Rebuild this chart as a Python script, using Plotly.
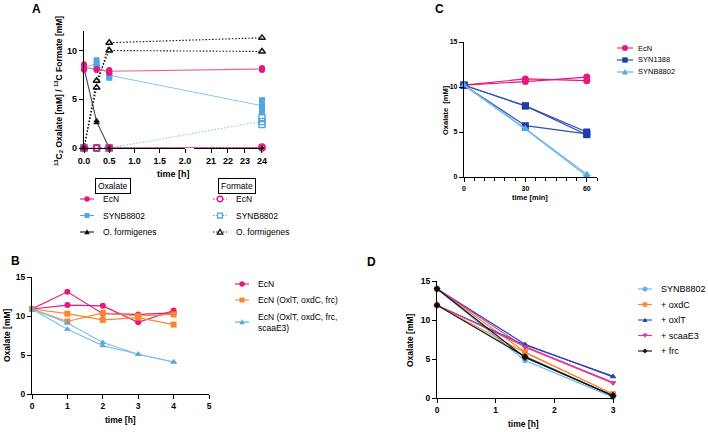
import numpy as np
import plotly.graph_objects as go

W, H = 708, 432
FONT = "Liberation Sans"
DOT = "1.5px,1.8px"

PINK = "#E5197B"
LBLUE = "#55A8E2"
DBLUE = "#1C3DA8"
ORANGE = "#F7872F"
BLACK = "#111111"

# ---------------- panel A ----------------
t_a = [0, 0.25, 0.5, 24]
ecn_ox = [[8.6, 8.0, 8.0, 8.0], [8.2, 8.1, 7.9, 8.1], [8.0, 8.0, 7.7, 8.2]]
synb_ox = [[8.3, 9.0, 7.7, 4.9], [8.3, 8.6, 7.5, 4.3], [8.2, 8.3, 7.2, 3.8]]
oform_ox = [[8.2, 2.8, 0.0, 0.0], [8.2, 2.6, 0.0, 0.0]]
ecn_fo = [[0.0, 0.0, 0.0, 0.1], [0.0, 0.0, 0.0, 0.0]]
synb_fo = [[0.0, 0.0, 0.0, 3.1], [0.0, 0.0, 0.0, 2.7], [0.0, 0.0, 0.0, 2.4]]
oform_fo = [[0.0, 6.2, 10.8, 11.3], [0.0, 6.9, 10.0, 9.9]]

# ---------------- panel B ----------------
t_b = [0, 1, 2, 3, 4]
b_ecn = [[10.9, 13.1, 10.3, 10.2, 10.4], [10.9, 11.4, 11.3, 9.2, 10.7]]
b_oxl = [[10.9, 10.3, 9.5, 9.8, 8.9], [10.9, 9.3, 10.4, 10.0, 10.2]]
b_scaa = [[10.9, 9.1, 6.6, 5.1, 4.1], [10.9, 8.3, 6.2, 5.1, 4.1]]

# ---------------- panel C ----------------
t_c = [0, 30, 60]
c_ecn = [[10.2, 10.9, 10.7], [10.2, 10.6, 11.1]]
c_syn1388 = [[10.2, 7.9, 5.0], [10.2, 7.9, 4.7], [10.2, 5.7, 4.8]]
c_synb = [[10.2, 5.4, 0.3], [10.2, 5.3, 0.1]]

# ---------------- panel D ----------------
t_d = [0, 1.5, 3]
d_synb = [[14.0, 4.8, 0.1], [11.9, 5.4, 0.2]]
d_oxdc = [[14.0, 5.9, 0.5], [11.9, 5.8, 0.5]]
d_oxlt = [[14.0, 6.9, 2.7], [11.9, 6.8, 2.8]]
d_scaa = [[14.0, 6.5, 1.9], [11.9, 6.6, 2.0]]
d_frc = [[14.0, 5.2, 0.3], [11.9, 5.3, 0.3]]


def px(x):
    return x / W


def py(y):
    return 1 - y / H


# broken time axis of panel A: left part 0-2 h, right part 20-24 h
A_L0, A_L1, A_R0, A_R1 = 84, 185, 194, 263
A_RMAX = 24.06
SC_L = (A_L1 - A_L0) / 2.0
SC_R = (A_R1 - A_R0) / (A_RMAX - 20)


def t_break(t):
    t = np.asarray(t, dtype=float)
    return np.where(t <= 2, t, 2 + (A_R0 - A_L1) / SC_L + (t - 20) * SC_R / SC_L)


fig = go.Figure()


def add_reps(reps, t, color, symbol, size, xa, ya, dash="solid", lw=1.2,
             open_=False, lcolor=None):
    for r in reps:
        fig.add_trace(go.Scatter(
            x=t, y=r, mode="lines+markers", xaxis=xa, yaxis=ya,
            line=dict(color=lcolor or color, width=lw, dash=dash),
            marker=dict(symbol=symbol + ("-open" if open_ else ""), size=size,
                        color=color, line=dict(color=color, width=1.3 if open_ else 0)),
            cliponaxis=False, showlegend=False, hoverinfo="skip"))


def add_a_series(reps, color, symbol, dash, open_=False, individual=False, lcolor=None):
    reps = np.array(reps)
    u = t_break(t_a)
    lines = reps if individual else [reps.mean(axis=0)]
    for ln in lines:
        fig.add_trace(go.Scatter(
            x=u, y=ln, mode="lines", xaxis="x", yaxis="y",
            line=dict(color=lcolor or color, width=1.1, dash=dash),
            cliponaxis=False, showlegend=False, hoverinfo="skip"))
    fig.add_trace(go.Scatter(
        x=np.tile(u, len(reps)), y=reps.ravel(), mode="markers", xaxis="x", yaxis="y",
        marker=dict(symbol=symbol + ("-open" if open_ else ""), size=6,
                    color=color, line=dict(color=color, width=1.4 if open_ else 0)),
        cliponaxis=False, showlegend=False, hoverinfo="skip"))


add_a_series(synb_fo, "#4FA6E0", "square", DOT, open_=True, lcolor="#8CC6EE")
add_a_series(oform_fo, BLACK, "triangle-up", DOT, open_=True, individual=True)
add_a_series(synb_ox, "#4FA6E0", "square", "solid", lcolor="#8CC6EE")
add_a_series(oform_ox, BLACK, "triangle-up", "solid", lcolor="#444444")
add_a_series(ecn_ox, PINK, "circle", "solid", lcolor="#EE5FA0")
add_a_series(ecn_fo, PINK, "circle", DOT, open_=True)

# empty traces so the two visible time axes of panel A are drawn
for xa in ["x6", "x7"]:
    fig.add_trace(go.Scatter(x=[None], y=[None], xaxis=xa, yaxis="y", showlegend=False))

add_reps(b_ecn, t_b, PINK, "circle", 6, "x3", "y3")
add_reps(b_oxl, t_b, ORANGE, "square", 6, "x3", "y3")
add_reps(b_scaa, t_b, LBLUE, "triangle-up", 6, "x3", "y3", lcolor="#7EC1EC")

add_reps(c_ecn, t_c, PINK, "circle", 7, "x4", "y4")
add_reps(c_syn1388, t_c, DBLUE, "square", 7, "x4", "y4", lcolor="#2F4FB8")
add_reps(c_synb, t_c, LBLUE, "triangle-up", 7, "x4", "y4", lcolor="#74BBEA")

add_reps(d_synb, t_d, "#6AB4E4", "circle", 5.5, "x5", "y5", lw=1.1)
add_reps(d_oxdc, t_d, ORANGE, "square", 5.5, "x5", "y5", lw=1.1)
add_reps(d_oxlt, t_d, "#2B44B8", "triangle-up", 5.5, "x5", "y5", lw=1.1)
add_reps(d_scaa, t_d, "#E8338A", "triangle-down", 5.5, "x5", "y5", lw=1.1)
add_reps(d_frc, t_d, BLACK, "diamond", 5.5, "x5", "y5", lw=1.1)

axis_common = dict(showline=True, linecolor="black", linewidth=1.3, ticks="outside",
                   ticklen=4, tickwidth=1.3, tickcolor="black", showgrid=False,
                   zeroline=False, fixedrange=True, automargin=False)


def tickfont(s):
    return dict(family=FONT, size=s, color="black", weight="bold")


fig.update_layout(
    width=W, height=H, margin=dict(l=0, r=0, t=0, b=0, pad=0, autoexpand=False),
    paper_bgcolor="white", plot_bgcolor="rgba(0,0,0,0)", showlegend=False,
    xaxis=dict(domain=[px(A_L0), px(A_R1)], range=[0, float(t_break(A_RMAX))], anchor="y",
               visible=False, fixedrange=True, automargin=False),
    xaxis6=dict(domain=[px(A_L0), px(A_L1)], range=[0, 2], anchor="y",
                tickvals=[0, 0.5, 1, 1.5, 2], tickformat=".1f", tickfont=tickfont(9), **axis_common),
    xaxis7=dict(domain=[px(A_R0), px(A_R1)], range=[20, A_RMAX], anchor="y",
                tickvals=[21, 22, 23, 24], tickfont=tickfont(9), **axis_common),
    yaxis=dict(domain=[py(148), py(31)], range=[0, 12], anchor="x",
               tickvals=[0, 5, 10], tickfont=tickfont(9), **axis_common),
    xaxis3=dict(domain=[px(32), px(209)], range=[0, 5], anchor="y3", dtick=1,
                tickfont=tickfont(8.5), **axis_common),
    yaxis3=dict(domain=[py(394), py(277)], range=[0, 15], anchor="x3", dtick=5,
                tickfont=tickfont(8.5), **axis_common),
    xaxis4=dict(domain=[px(464), px(597)], range=[0, 65], anchor="y4", tickvals=[0, 30, 60],
                minor=dict(dtick=5, ticks="outside", ticklen=2.5, tickcolor="black", tickwidth=1),
                tickfont=tickfont(7), **axis_common),
    yaxis4=dict(domain=[py(177), py(42)], range=[0, 15], anchor="x4", dtick=5,
                tickfont=tickfont(7), **axis_common),
    xaxis5=dict(domain=[px(437), px(613)], range=[0, 3], anchor="y5", dtick=1,
                tickfont=tickfont(8.5), **axis_common),
    yaxis5=dict(domain=[py(398), py(281)], range=[0, 15], anchor="x5", dtick=5,
                tickfont=tickfont(8.5), **axis_common),
)

ann = []


def text(x, y, s, size, bold=True, angle=0, xanchor="center", **kw):
    ann.append(dict(x=px(x), y=py(y), xref="paper", yref="paper", text=s, showarrow=False,
                    textangle=angle, xanchor=xanchor, yanchor="middle",
                    font=dict(family=FONT, size=size, color="black",
                              weight="bold" if bold else "normal"), **kw))


# panel letters
text(36, 9, "A", 12)
text(439, 9, "C", 12)
text(15, 261, "B", 12)
text(371, 262, "D", 12)

# axis titles
text(58, 91, "<sup>13</sup>C<sub>2</sub> Oxalate [mM] / <sup>13</sup>C Formate [mM]", 8.5, angle=-90)
text(173, 174, "time [h]", 9)
text(7, 335, "Oxalate [mM]", 8.5, angle=-90)
text(120, 420, "time [h]", 8.5)
text(445, 110, "Oxalate  [mM]", 7.5, angle=-90)
text(530, 197, "time [min]", 7.5)
text(410, 340, "Oxalate [mM]", 8.5, angle=-90)
text(523, 424, "time [h]", 8.5)

# boxed legend headers in A
text(113, 185.5, "Oxalate", 8.5, bold=False, bordercolor="black", borderwidth=1, borderpad=2)
text(237, 185.5, "Formate", 8.5, bold=False, bordercolor="black", borderwidth=1, borderpad=2)

shapes = []


def key(x, y, name, color, symbol, size, fsize, dash="solid", open_=False, half=7, tx=14):
    shapes.append(dict(type="line", xref="paper", yref="paper", x0=px(x - half), x1=px(x + half),
                       y0=py(y), y1=py(y), line=dict(color=color, width=1.1, dash=dash)))
    r = size / 2
    fill = "white" if open_ else color
    lw = 1.3 if open_ else 0
    if symbol == "circle":
        shapes.append(dict(type="circle", xref="paper", yref="paper", x0=px(x - r), x1=px(x + r),
                           y0=py(y + r), y1=py(y - r), fillcolor=fill,
                           line=dict(color=color, width=lw)))
    elif symbol == "square":
        r *= 0.9
        shapes.append(dict(type="rect", xref="paper", yref="paper", x0=px(x - r), x1=px(x + r),
                           y0=py(y + r), y1=py(y - r), fillcolor=fill,
                           line=dict(color=color, width=lw)))
    else:
        if symbol == "tri-up":
            pts = [(x - r, y + r * 0.8), (x + r, y + r * 0.8), (x, y - r)]
        elif symbol == "tri-down":
            pts = [(x - r, y - r * 0.8), (x + r, y - r * 0.8), (x, y + r)]
        else:
            pts = [(x - r, y), (x, y - r), (x + r, y), (x, y + r)]
        path = "M " + " L ".join(f"{px(a):.5f},{py(b):.5f}" for a, b in pts) + " Z"
        shapes.append(dict(type="path", xref="paper", yref="paper", path=path, fillcolor=fill,
                           line=dict(color=color, width=lw)))
    text(x + tx, y, name, fsize, bold=False, xanchor="left")


# legend A
for i, (nm, col, sym) in enumerate([("EcN", PINK, "circle"), ("SYNB8802", "#4FA6E0", "square"),
                                    ("O. formigenes", BLACK, "tri-up")]):
    key(87, 199 + i * 16.5, nm, col, sym, 5.5, 8.5)
    key(220, 199 + i * 16.5, nm, col, sym, 5.5, 8.5, dash=DOT, open_=True)

# legend B
key(242, 284, "EcN", PINK, "circle", 5.5, 8.5)
key(242, 300, "EcN (OxlT, oxdC, frc)", ORANGE, "square", 5.5, 8.5)
key(242, 322, "EcN (OxlT, oxdC, frc,<br>scaaE3)", LBLUE, "tri-up", 5.5, 8.5)
ann[-1]["align"] = "left"

# legend C
key(625, 48, "EcN", PINK, "circle", 6, 7.5, half=8, tx=11)
key(625, 60, "SYN1388", DBLUE, "square", 6, 7.5, half=8, tx=11)
key(625, 72, "SYNB8802", LBLUE, "tri-up", 6, 7.5, half=8, tx=11)

# legend D
for i, (nm, col, sym) in enumerate([("SYNB8802", "#6AB4E4", "circle"), ("+ oxdC", ORANGE, "square"),
                                    ("+ oxlT", "#2B44B8", "tri-up"), ("+ scaaE3", "#E8338A", "tri-down"),
                                    ("+ frc", BLACK, "diamond")]):
    key(645, 289 + i * 15.5, nm, col, sym, 5, 9, tx=14)

fig.update_layout(annotations=ann, shapes=shapes)
# the page's default body margin would shift the fixed-size figure
fig.write_html("out.html", config={"displayModeBar": False},
               post_script="document.body.style.margin='0';")
